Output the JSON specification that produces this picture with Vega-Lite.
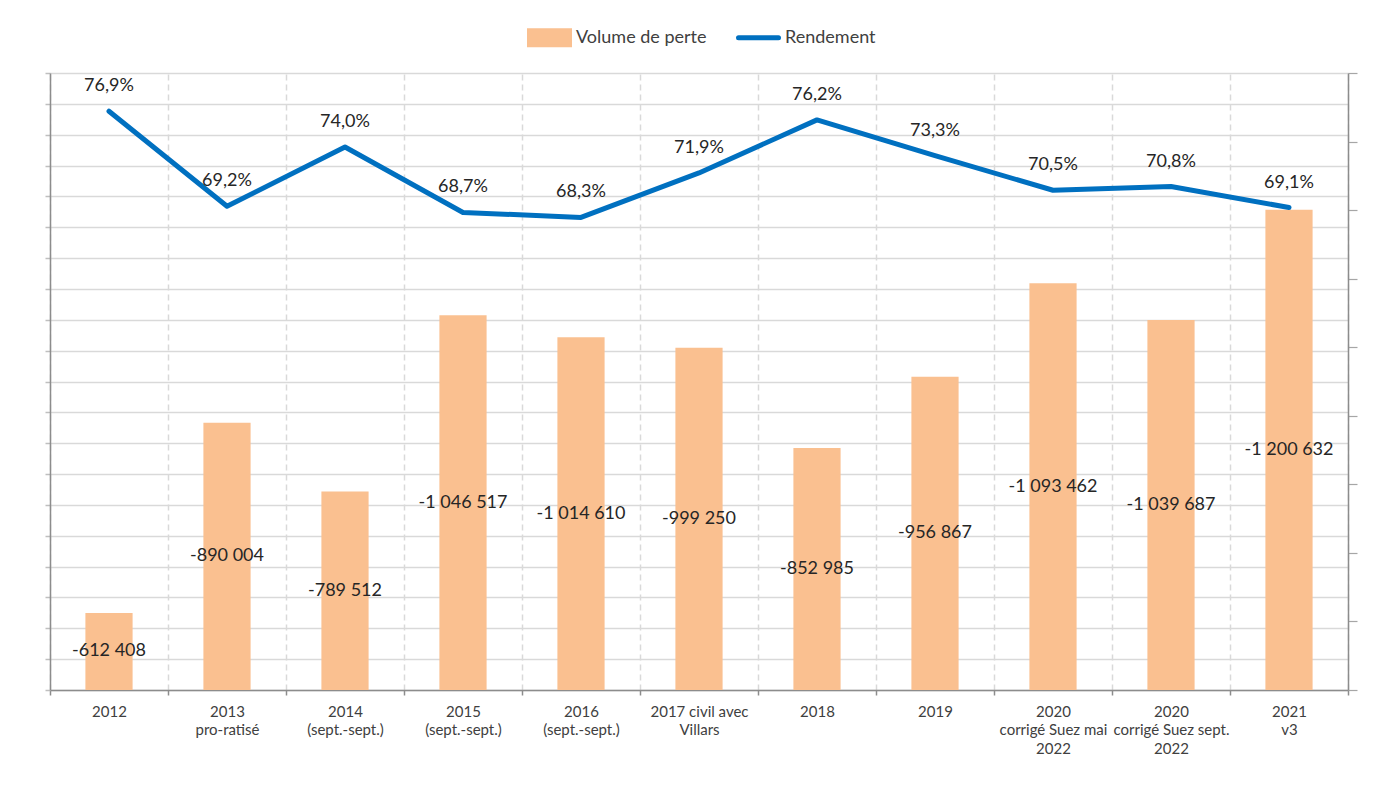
{
  "$schema": "https://vega.github.io/schema/vega-lite/v6.json",
  "autosize": {"type": "none"},
  "width": 1298,
  "height": 617,
  "padding": {"left": 50, "top": 73, "right": 48, "bottom": 104},
  "background": "#ffffff",
  "config": {
    "font": "Lato",
    "view": {"stroke": null},
    "locale": {"number": {"decimal": ",", "thousands": " ", "grouping": [3], "currency": ["", " €"], "minus": "-", "percent": "%"}}
  },
  "data": {"values": [
    {"cat": "2012", "volume": -612408, "rendement": 0.769},
    {"cat": "2013\npro-ratisé", "volume": -890004, "rendement": 0.692},
    {"cat": "2014\n(sept.-sept.)", "volume": -789512, "rendement": 0.740},
    {"cat": "2015\n(sept.-sept.)", "volume": -1046517, "rendement": 0.687},
    {"cat": "2016\n(sept.-sept.)", "volume": -1014610, "rendement": 0.683},
    {"cat": "2017 civil avec\nVillars", "volume": -999250, "rendement": 0.719},
    {"cat": "2018", "volume": -852985, "rendement": 0.762},
    {"cat": "2019", "volume": -956867, "rendement": 0.733},
    {"cat": "2020\ncorrigé Suez mai\n2022", "volume": -1093462, "rendement": 0.705},
    {"cat": "2020\ncorrigé Suez sept.\n2022", "volume": -1039687, "rendement": 0.708},
    {"cat": "2021\nv3", "volume": -1200632, "rendement": 0.691}
  ]},
  "encoding": {
    "x": {
      "field": "cat", "type": "nominal", "sort": null,
      "scale": {"paddingInner": 0, "paddingOuter": 0},
      "axis": {
        "title": null, "labelAngle": 0,
        "labelExpr": "split(datum.label, '\\n')",
        "tickBand": "extent",
        "grid": true, "gridDash": [6, 4], "gridColor": "#d9d9d9", "gridWidth": 1.5,
        "domainColor": "#8c8c8c", "domainWidth": 1.5,
        "tickColor": "#8c8c8c", "tickSize": 5, "tickWidth": 1.5,
        "labelFont": "Lato", "labelFontSize": 15, "labelColor": "#404040",
        "labelLineHeight": 18.5, "labelPadding": 9, "labelBaseline": "top"
      }
    }
  },
  "layer": [
    {
      "mark": {"type": "bar", "width": {"band": 0.4}},
      "encoding": {
        "y": {
          "field": "volume", "type": "quantitative",
          "scale": {"domain": [-1400000, -500000], "reverse": true, "zero": false, "nice": false},
          "axis": {
            "orient": "left", "title": null, "labels": false,
            "values": [-500000, -545000, -590000, -635000, -680000, -725000, -770000, -815000, -860000, -905000, -950000, -995000, -1040000, -1085000, -1130000, -1175000, -1220000, -1265000, -1310000, -1355000, -1400000],
            "grid": true, "gridColor": "#d9d9d9", "gridWidth": 1.5,
            "domainColor": "#8c8c8c", "domainWidth": 1.5,
            "tickColor": "#bfbfbf", "tickSize": 5, "tickWidth": 1.5
          }
        },
        "y2": {"datum": -500000},
        "color": {
          "datum": "Volume de perte",
          "scale": {"domain": ["Volume de perte", "Rendement"], "range": ["#FAC090", "#0070C0"]},
          "legend": {
            "title": null, "orient": "none", "direction": "horizontal",
            "legendX": 477, "legendY": -58, "padding": 0, "gridAlign": "all",
            "symbolSize": 1600, "labelOffset": 4, "columnPadding": 21,
            "labelFont": "Lato", "labelFontSize": 18, "labelColor": "#404040",
            "encode": {
              "symbols": {
                "update": {
                  "shape": [{"test": "datum.value === 'Rendement'", "value": "M-1,-0.35M-1,0H1M1,0.35"}, {"value": "M-1,-0.35H1V0.35H-1Z"}],
                  "fill": [{"test": "datum.value === 'Rendement'", "value": "transparent"}, {"value": "#FAC090"}],
                  "stroke": [{"test": "datum.value === 'Rendement'", "value": "#0070C0"}, {"value": "transparent"}],
                  "strokeWidth": {"value": 5},
                  "strokeCap": {"value": "round"},
                  "opacity": {"value": 1}
                }
              }
            }
          }
        }
      }
    },
    {
      "mark": {"type": "text", "font": "Lato", "fontSize": 18, "color": "#262626", "baseline": "middle", "align": "center"},
      "encoding": {
        "y": {
          "field": "volume", "type": "quantitative",
          "scale": {"domain": [-2300000, -500000], "reverse": true, "zero": false, "nice": false},
          "axis": null
        },
        "text": {"field": "volume", "type": "quantitative", "format": ",.0f"}
      }
    },
    {
      "mark": {"type": "line", "strokeWidth": 5, "strokeCap": "round", "strokeJoin": "round"},
      "encoding": {
        "y": {
          "field": "rendement", "type": "quantitative",
          "scale": {"domain": [0.3, 0.8], "zero": false, "nice": false},
          "axis": {
            "orient": "right", "title": null, "labels": false, "grid": false,
            "values": [0.3, 0.355556, 0.411111, 0.466667, 0.522222, 0.577778, 0.633333, 0.688889, 0.744444, 0.8],
            "domainColor": "#8c8c8c", "domainWidth": 1.5,
            "tickColor": "#a6a6a6", "tickSize": 9, "tickWidth": 1.2
          }
        },
        "color": {"datum": "Rendement"}
      }
    },
    {
      "mark": {"type": "text", "font": "Lato", "fontSize": 18, "color": "#262626", "baseline": "middle", "align": "center", "dy": -25},
      "encoding": {
        "y": {
          "field": "rendement", "type": "quantitative",
          "scale": {"domain": [0.3, 0.8], "zero": false, "nice": false},
          "axis": null
        },
        "text": {"field": "rendement", "type": "quantitative", "format": ".1%"}
      }
    }
  ],
  "resolve": {"scale": {"y": "independent"}, "axis": {"y": "independent"}}
}
